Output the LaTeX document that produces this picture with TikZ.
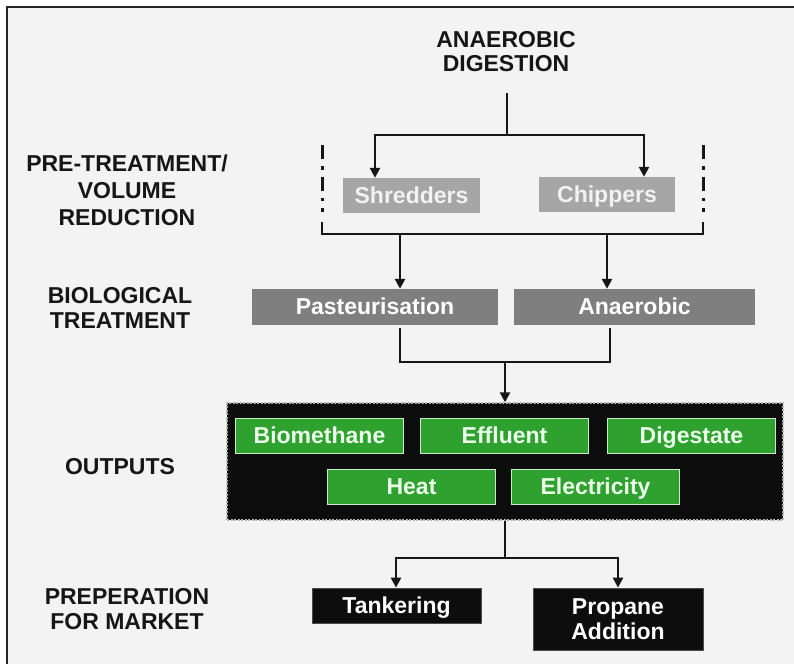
\documentclass[tikz,border=0pt]{standalone}
\usepackage{fontspec}
\setmainfont{Liberation Sans}
\usetikzlibrary{arrows.meta}

\definecolor{pagebg}{HTML}{F3F3F3}
\definecolor{inkc}{HTML}{161616}
\definecolor{boxlight}{HTML}{A6A6A6}
\definecolor{boxdark}{HTML}{7F7F7F}
\definecolor{boxgreen}{HTML}{2FA12F}
\definecolor{greenedge}{HTML}{C8EAC8}

\tikzset{
  heading/.style={font=\fontsize{23}{25}\selectfont\bfseries, align=center, text=inkc, inner sep=0pt},
  stepbox/.style={minimum height=35pt, inner sep=0pt, align=center, text=white,
    font=\fontsize{23}{25}\selectfont\bfseries},
  oneline/.style={text height=15.5pt, text depth=0pt},
  lightbox/.style={stepbox, oneline, fill=boxlight, text=white!95!black},
  darkbox/.style={stepbox, oneline, fill=boxdark},
  greenbox/.style={stepbox, oneline, fill=boxgreen, draw=greenedge, line width=1pt,
    minimum width=168pt, minimum height=35pt, text=white!92!green},
  blackbox/.style={stepbox, fill=black!95, draw=black!70, line width=0.8pt},
  conn/.style={line width=2.6pt, draw=inkc},
  arr/.style={conn, -{Triangle[width=10pt,length=10pt]}},
  dashdot/.style={line width=3pt, draw=inkc, dash pattern=on 14pt off 7pt on 3.5pt off 7pt},
}

\begin{document}
\begin{tikzpicture}[x=1pt,y=-1pt]
  % page and frame
  \useasboundingbox (0,0) rectangle (794,664);
  \fill[white] (0,0) rectangle (794,664);
  \fill[pagebg] (7,7) rectangle (794,664);
  \draw[line width=2pt, black!85] (7,664) -- (7,7) -- (794,7);

  % stage headings
  \node[heading] (title) at (506,52) {ANAEROBIC\\[-1pt]DIGESTION};
  \node[heading] (hpre) at (127,190) {PRE-TREATMENT/\\[2pt]VOLUME\\[2pt]REDUCTION};
  \node[heading] (hbio) at (120,308) {BIOLOGICAL\\TREATMENT};
  \node[heading] (hout) at (120,467) {OUTPUTS};
  \node[heading] (hmkt) at (127,609) {PREPERATION\\FOR MARKET};

  % pre-treatment
  \node[lightbox, minimum width=137pt] (shred) at (411.5,195.5) {Shredders};
  \node[lightbox, minimum width=136pt] (chip) at (607,194.5) {Chippers};

  % biological treatment
  \node[darkbox, minimum width=246pt, minimum height=36pt] (past) at (375,307) {Pasteurisation};
  \node[darkbox, minimum width=241pt, minimum height=36pt] (anae) at (634.5,307) {Anaerobic};

  % outputs
  \node[fill=black!95, draw=white!70!black, line width=1.4pt, dash pattern=on 2pt off 1.5pt,
        minimum width=556pt, minimum height=117pt, inner sep=0pt] (outbg) at (505,461.5) {};
  \node[greenbox] (bio) at (319.5,436) {Biomethane};
  \node[greenbox] (eff) at (504.5,436) {Effluent};
  \node[greenbox] (dig) at (691.5,436) {Digestate};
  \node[greenbox] (heat) at (411.5,486.5) {Heat};
  \node[greenbox] (elec) at (595.5,486.5) {Electricity};

  % preparation for market
  \node[blackbox, oneline, minimum width=169pt] (tank) at (396.5,605.5) {Tankering};
  \node[blackbox, minimum width=170pt, minimum height=62pt] (prop) at (618,619)
        {Propane\\Addition};

  % connector points
  \coordinate (t0) at (507,93);
  \coordinate (fork1) at (507,135);
  \coordinate (xs) at (375,0);
  \coordinate (xc) at (644,0);
  \coordinate (bl0) at (322,222);
  \coordinate (br0) at (703,222);
  \coordinate (bl) at (322,234);
  \coordinate (br) at (703,234);
  \coordinate (xp) at (400,0);
  \coordinate (xa) at (607,0);
  \coordinate (xa2) at (610,0);
  \coordinate (merge) at (505,362);
  \coordinate (fork3) at (505,558);
  \coordinate (xt) at (396,0);
  \coordinate (xq) at (618,0);

  % digestion splits to the pre-treatment units
  \draw[conn] (t0) -- (fork1);
  \draw[arr] (fork1) -| (shred.north -| xs);
  \draw[arr] (fork1) -| (chip.north -| xc);

  % pre-treatment group bounds
  \draw[dashdot] (322,145) -- (322,212);
  \draw[dashdot] (703,145) -- (703,212);
  \draw[conn] (bl0) -- (bl) -- (br) -- (br0);
  \draw[arr] (bl -| xp) -- (past.north -| xp);
  \draw[arr] (bl -| xa) -- (anae.north -| xa);

  % treatments merge into outputs
  \draw[conn] ([yshift=-3pt]past.south -| xp) |- (merge) -| ([yshift=-3pt]anae.south -| xa2);
  \draw[arr] (merge) -- (outbg.north);

  % outputs to market preparation
  \draw[conn] (outbg.south) -- (fork3);
  \draw[arr] (fork3) -| (tank.north -| xt);
  \draw[arr] (fork3) -| (prop.north -| xq);
\end{tikzpicture}
\end{document}
